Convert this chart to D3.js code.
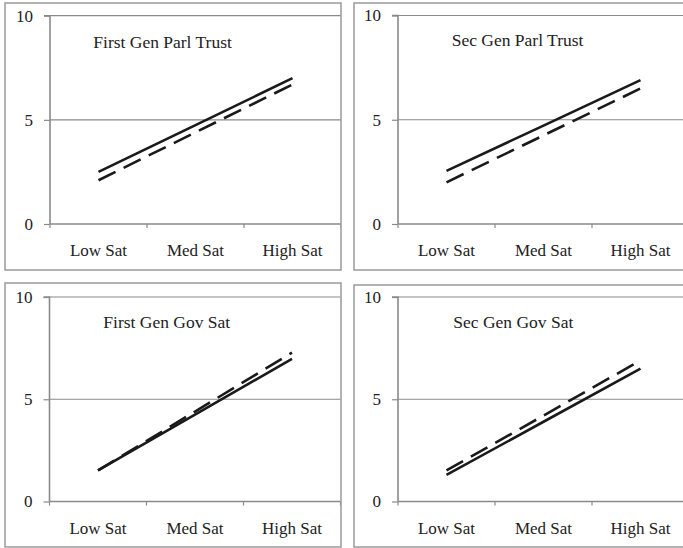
<!DOCTYPE html>
<html>
<head>
<meta charset="utf-8">
<script src="https://cdn.jsdelivr.net/npm/d3@7"></script>
<style>
  html, body { margin: 0; padding: 0; background: #fff; }
  svg { display: block; }
  text { font-family: "Liberation Serif", "Times New Roman", serif; fill: #222; }
</style>
</head>
<body>
<svg id="chart" width="683" height="548"></svg>
<script>
// ---- data ----
const categories = ["Low Sat", "Med Sat", "High Sat"];
const yTicks = [0, 5, 10];
const panelTitles = ["First Gen Parl Trust", "Sec Gen Parl Trust", "First Gen Gov Sat", "Sec Gen Gov Sat"];
const firstGenParlTrustSolid  = [2.5, 4.75, 7.0];
const firstGenParlTrustDashed = [2.1, 4.4, 6.7];
const secGenParlTrustSolid    = [2.55, 4.72, 6.9];
const secGenParlTrustDashed   = [2.0, 4.25, 6.5];
const firstGenGovSatSolid     = [1.52, 4.25, 6.98];
const firstGenGovSatDashed    = [1.52, 4.4, 7.28];
const secGenGovSatSolid       = [1.3, 3.9, 6.5];
const secGenGovSatDashed      = [1.52, 4.2, 6.9];

const panelSeries = [
  [firstGenParlTrustSolid, firstGenParlTrustDashed],
  [secGenParlTrustSolid, secGenParlTrustDashed],
  [firstGenGovSatSolid, firstGenGovSatDashed],
  [secGenGovSatSolid, secGenGovSatDashed]
];

// ---- layout (positions only) ----
const layout = [
  { bx: 5,   by: 3,   bw: 336, bh: 267, px: 50,  pt: 15.7, pb: 224,   tx: 43.3, ty: 32.6 },
  { bx: 354, by: 3,   bw: 340, bh: 267, px: 398, pt: 15.5, pb: 224,   tx: 53.7, ty: 30 },
  { bx: 5,   by: 283, bw: 336, bh: 264, px: 49.5, pt: 297, pb: 501.5, tx: 53.8, ty: 31.3 },
  { bx: 354, by: 285, bw: 340, bh: 262, px: 398, pt: 297, pb: 501.5, tx: 55.3, ty: 31.3 }
];
const plotWidth = 291;
const axisColor = "#8a8a8a";
const borderColor = "#9a9a9a";

const svg = d3.select("#chart");

layout.forEach((L, i) => {
  const g = svg.append("g");
  const clipId = "clip" + i;
  g.append("clipPath").attr("id", clipId)
    .append("rect").attr("x", L.bx).attr("y", L.by).attr("width", L.bw).attr("height", L.bh);

  const inner = g.append("g").attr("clip-path", `url(#${clipId})`);

  const x = d3.scaleBand().domain(categories).range([L.px, L.px + plotWidth]).padding(0);
  const y = d3.scaleLinear().domain([0, 10]).range([L.pb, L.pt]);

  // gridlines (5, 10)
  inner.selectAll("line.grid").data(yTicks.filter(t => t > 0)).enter().append("line")
    .attr("x1", L.px).attr("x2", L.px + plotWidth)
    .attr("y1", d => y(d)).attr("y2", d => y(d))
    .attr("stroke", axisColor).attr("stroke-width", 1.2);

  // y axis
  const yAxis = d3.axisLeft(y).tickValues(yTicks).tickSize(6).tickPadding(11).tickFormat(d3.format("d"));
  const yg = inner.append("g").attr("transform", `translate(${L.px},0)`).call(yAxis);
  yg.select(".domain").attr("stroke", axisColor).attr("stroke-width", 1.6)
    .attr("d", `M-6,${L.pt}H0V${L.pb}`);
  yg.selectAll(".tick line").attr("stroke", axisColor).attr("stroke-width", 1.2);
  yg.selectAll(".tick text").attr("font-size", 17).attr("font-family", "Liberation Serif").attr("fill", "#222");

  // x axis line + boundary ticks
  const bounds = categories.map(c => x(c)).concat([x.range()[1]]);
  inner.append("line")
    .attr("x1", L.px).attr("x2", L.px + plotWidth)
    .attr("y1", y(0)).attr("y2", y(0))
    .attr("stroke", axisColor).attr("stroke-width", 1.6);
  inner.selectAll("line.xt").data(bounds).enter().append("line")
    .attr("x1", d => d).attr("x2", d => d)
    .attr("y1", y(0)).attr("y2", y(0) + 4)
    .attr("stroke", axisColor).attr("stroke-width", 1.2);
  // x labels
  inner.selectAll("text.xl").data(categories).enter().append("text")
    .attr("x", d => x(d) + x.bandwidth() / 2)
    .attr("y", y(0) + 32)
    .attr("text-anchor", "middle")
    .attr("font-size", 17)
    .text(d => d);

  // title
  inner.append("text")
    .attr("x", L.px + L.tx).attr("y", L.pt + L.ty)
    .attr("font-size", 17.5)
    .text(panelTitles[i]);

  // lines
  const line = d3.line().x((d, j) => x(categories[j]) + x.bandwidth() / 2).y(d => y(d));
  const [solid, dashed] = panelSeries[i];
  inner.append("path").datum(dashed).attr("d", line)
    .attr("fill", "none").attr("stroke", "#1a1a1a").attr("stroke-width", 2.6)
    .attr("stroke-dasharray", "19,9");
  inner.append("path").datum(solid).attr("d", line)
    .attr("fill", "none").attr("stroke", "#1a1a1a").attr("stroke-width", 2.6);

  // border
  g.append("rect")
    .attr("x", L.bx).attr("y", L.by).attr("width", L.bw).attr("height", L.bh)
    .attr("fill", "none").attr("stroke", borderColor).attr("stroke-width", 1.5);
});
</script>
</body>
</html>
